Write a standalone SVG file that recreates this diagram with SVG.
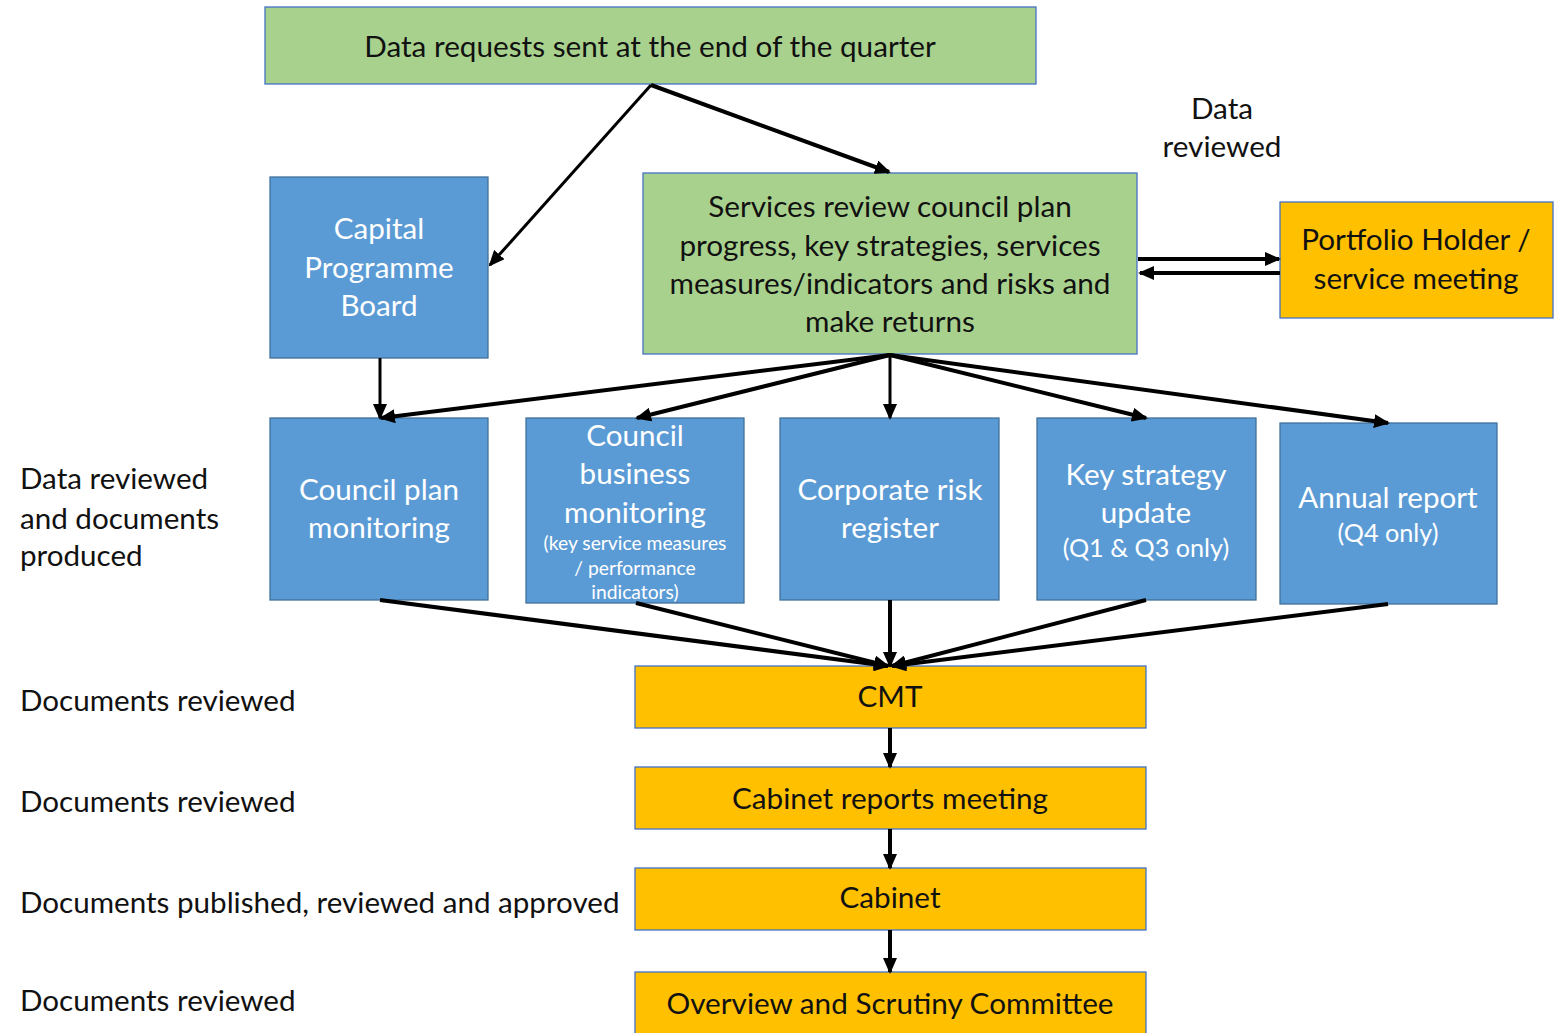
<svg xmlns="http://www.w3.org/2000/svg" width="1557" height="1033" viewBox="0 0 1557 1033">
<style>
text{font-family:Lato,"Liberation Sans",sans-serif;}
.g{fill:#A9D18E;stroke:#4472C4;stroke-width:1.3}
.b{fill:#5B9BD5;stroke:#41719C;stroke-width:1.3}
.o{fill:#FFC000;stroke:#4472C4;stroke-width:1.3}
.tk{fill:#111;font-size:29.7px;text-anchor:middle}
.tw{fill:#fff;font-size:29.6px;text-anchor:middle}
.ts{fill:#fff;font-size:19.3px;text-anchor:middle}
.tm{fill:#fff;font-size:25.2px;text-anchor:middle}
.lb{fill:#111;font-size:29.6px}
.c line{stroke:#000;stroke-width:4;marker-end:url(#ah)}
</style>
<defs>
<marker id="ah" markerUnits="userSpaceOnUse" markerWidth="16" markerHeight="14" refX="14" refY="7" orient="auto">
<path d="M0,0 L16,7 L0,14 Z" fill="#000"/>
</marker>
</defs>
<rect width="1557" height="1033" fill="#fff"/>
<g id="n-top"><rect class="g" x="265" y="7" width="771" height="77"/><text class="tk" x="650" y="57">Data requests sent at the end of the quarter</text></g>
<g id="n-cpb"><rect class="b" x="270" y="177" width="218" height="181"/>
<text class="tw" x="379" y="239">Capital</text><text class="tw" x="379" y="278">Programme</text><text class="tw" x="379" y="316">Board</text></g>
<g id="n-services"><rect class="g" x="643" y="173" width="494" height="181"/>
<text class="tk" x="890" y="217">Services review council plan</text>
<text class="tk" x="890" y="256">progress, key strategies, services</text>
<text class="tk" x="890" y="294">measures/indicators and risks and</text>
<text class="tk" x="890" y="332">make returns</text></g>
<g id="n-portfolio"><rect class="o" x="1280" y="202" width="273" height="116"/>
<text class="tk" x="1416" y="250">Portfolio Holder /</text><text class="tk" x="1416" y="289">service meeting</text></g>
<g id="l-datareviewed"><text class="tk" x="1222" y="119">Data</text><text class="tk" x="1222" y="157">reviewed</text></g>
<g id="n-cpm"><rect class="b" x="270" y="418" width="218" height="182"/>
<text class="tw" x="379" y="500">Council plan</text><text class="tw" x="379" y="538">monitoring</text></g>
<g id="n-cbm"><rect class="b" x="526" y="418" width="218" height="185"/>
<text class="tw" x="635" y="446">Council</text><text class="tw" x="635" y="484">business</text><text class="tw" x="635" y="523">monitoring</text>
<text class="ts" x="635" y="550">(key service measures</text><text class="ts" x="635" y="575">/ performance</text><text class="ts" x="635" y="599">indicators)</text></g>
<g id="n-crr"><rect class="b" x="780" y="418" width="219" height="182"/>
<text class="tw" x="890" y="500">Corporate risk</text><text class="tw" x="890" y="538">register</text></g>
<g id="n-ksu"><rect class="b" x="1037" y="418" width="219" height="182"/>
<text class="tw" x="1146" y="485">Key strategy</text><text class="tw" x="1146" y="523">update</text><text class="tm" x="1146" y="557">(Q1 &amp; Q3 only)</text></g>
<g id="n-ar"><rect class="b" x="1280" y="423" width="217" height="181"/>
<text class="tw" x="1388" y="508">Annual report</text><text class="tm" x="1388" y="542">(Q4 only)</text></g>
<g id="n-cmt"><rect class="o" x="635" y="666" width="511" height="62"/><text class="tk" x="890" y="707">CMT</text></g>
<g id="n-crm"><rect class="o" x="635" y="767" width="511" height="62"/><text class="tk" x="890" y="809">Cabinet reports meeting</text></g>
<g id="n-cab"><rect class="o" x="635" y="868" width="511" height="62"/><text class="tk" x="890" y="908">Cabinet</text></g>
<g id="n-osc"><rect class="o" x="635" y="972" width="511" height="70"/><text class="tk" x="890" y="1014">Overview and Scrutiny Committee</text></g>
<g id="labels">
<text class="lb" x="20" y="489">Data reviewed</text><text class="lb" x="20" y="529">and documents</text><text class="lb" x="20" y="566">produced</text>
<text class="lb" x="20" y="711">Documents reviewed</text>
<text class="lb" x="20" y="812">Documents reviewed</text>
<text class="lb" x="20" y="913">Documents published, reviewed and approved</text>
<text class="lb" x="20" y="1011">Documents reviewed</text>
</g>
<g id="connectors" class="c">
<line x1="651" y1="85" x2="490" y2="265" style="stroke-width:3"/>
<line x1="651" y1="85" x2="889" y2="172"/>
<line x1="380" y1="358" x2="380" y2="418" style="stroke-width:3"/>
<line x1="890" y1="355" x2="381" y2="418"/>
<line x1="890" y1="355" x2="637" y2="418"/>
<line x1="890" y1="355" x2="890" y2="418" style="stroke-width:3"/>
<line x1="890" y1="355" x2="1146" y2="418"/>
<line x1="890" y1="355" x2="1388" y2="423"/>
<line x1="1138" y1="259" x2="1279" y2="259"/>
<line x1="1280" y1="273" x2="1140" y2="273"/>
<line x1="380" y1="600" x2="888" y2="666"/>
<line x1="636" y1="603" x2="888" y2="666"/>
<line x1="890" y1="600" x2="890" y2="666"/>
<line x1="1146" y1="600" x2="892" y2="666"/>
<line x1="1388" y1="604" x2="892" y2="666"/>
<line x1="890" y1="728" x2="890" y2="767"/>
<line x1="890" y1="829" x2="890" y2="868"/>
<line x1="890" y1="930" x2="890" y2="972"/>
</g>
</svg>
